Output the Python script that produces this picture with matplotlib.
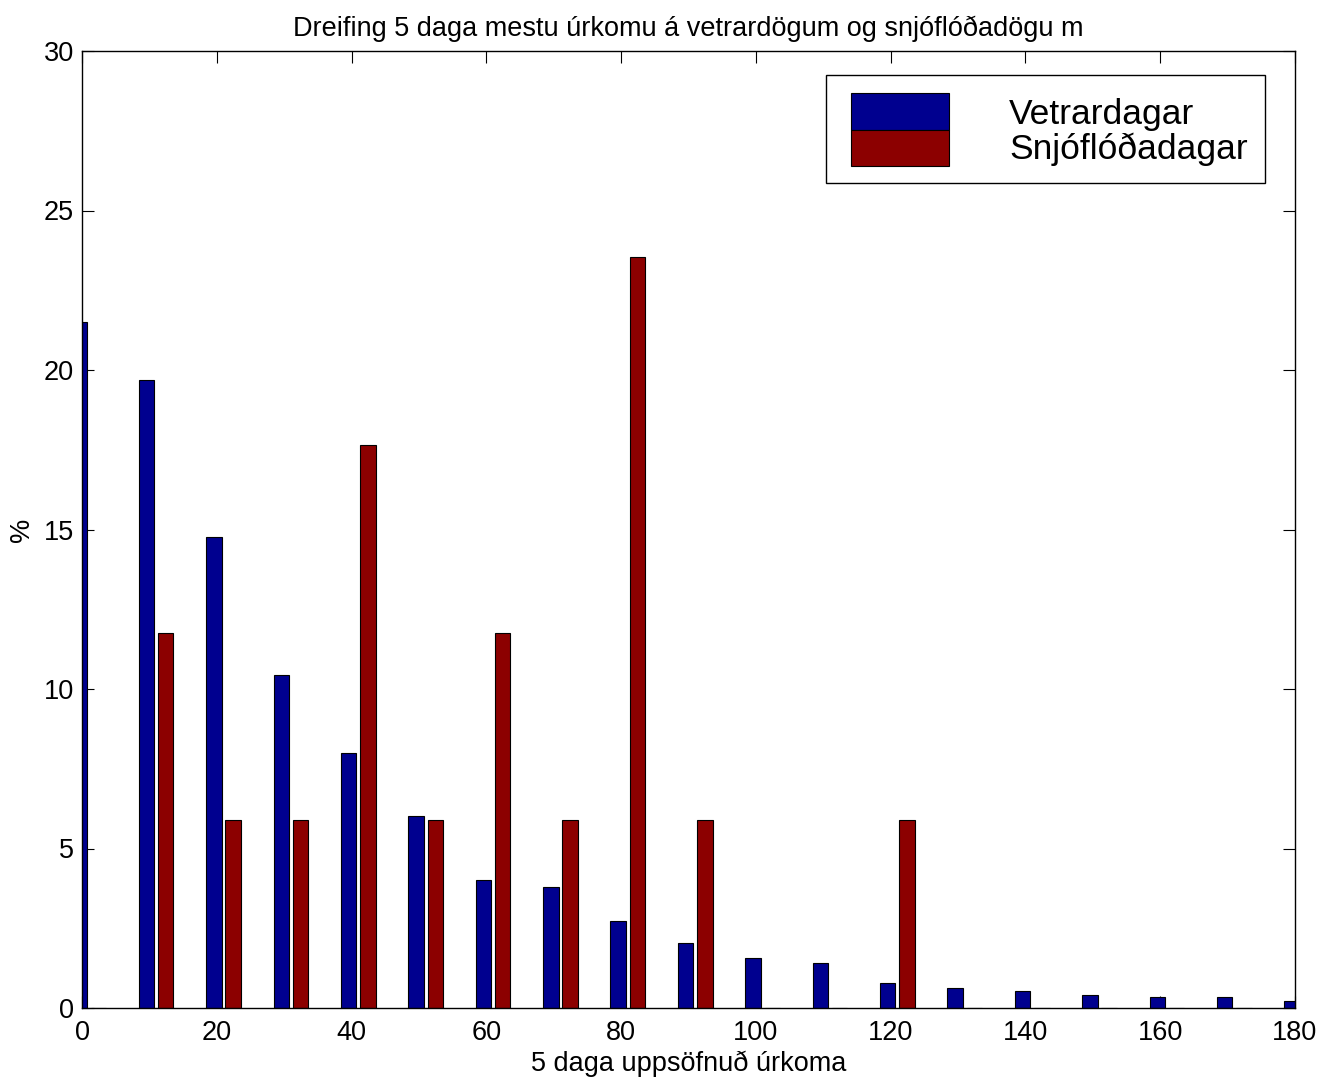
import matplotlib
matplotlib.use("Agg")
import matplotlib.pyplot as plt
from matplotlib.patches import Rectangle
import numpy as np

plt.rcParams['font.family'] = ['Liberation Sans', 'DejaVu Sans']

bin_centers = [1, 11, 21, 31, 41, 51, 61, 71, 81, 91, 101, 111, 121, 131, 141, 151, 161, 171, 181]
vetrardagar = [21.5, 19.7, 14.78, 10.45, 7.99, 6.03, 4.02, 3.79, 2.74, 2.05, 1.58, 1.42, 0.79,
               0.63, 0.52, 0.42, 0.36, 0.36, 0.22]
snjofloda = [0.0, 11.76, 5.88, 5.88, 17.65, 5.88, 11.76, 5.88, 23.53, 5.88, 0.0, 0.0, 5.88,
             0.0, 0.0, 0.0, 0.0, 0.0, 0.0]
labels = ['Vetrardagar', 'Snjóflóðadagar']
colors = ['#00008F', '#8C0000']
xticks = [0, 20, 40, 60, 80, 100, 120, 140, 160, 180]
yticks = [0, 5, 10, 15, 20, 25, 30]

fig = plt.figure(figsize=(13.36, 10.8), dpi=100)
ax = fig.add_axes([82/1336, 1 - 1008/1080, (1295-82)/1336, (1008-51)/1080])

x = np.array(bin_centers, dtype=float)
w = 2.29
off = 1.43
ax.bar(x - off, vetrardagar, width=w, color=colors[0], edgecolor='black', linewidth=0.8, zorder=2)
ax.bar(x + off, snjofloda, width=w, color=colors[1], edgecolor='black', linewidth=0.8, zorder=2)

ax.set_xlim(0, 180)
ax.set_ylim(0, 30)
ax.set_xticks(xticks)
ax.set_yticks(yticks)
ax.tick_params(direction='in', length=8.5, width=0.8, top=True, right=True,
               labelsize=19.5)
ax.tick_params(axis='x', pad=9)
ax.tick_params(axis='y', pad=6)
for s in ax.spines.values():
    s.set_linewidth(1.0)
    s.set_zorder(3)

ax.set_title('Dreifing 5 daga mestu úrkomu á vetrardögum og snjóflóðadögu m', fontsize=19.5, pad=11)
ax.set_xlabel('5 daga uppsöfnuð úrkoma', fontsize=19.5, labelpad=3)
ax.set_ylabel('%', fontsize=19.5, labelpad=6)

# legend (MATLAB style) in axes fraction coordinates
def fx(px):
    return (px - 82) / (1295 - 82)
def fy(py):
    return (1008 - py) / (1008 - 51)

ax.add_patch(Rectangle((fx(826), fy(183)), fx(1265) - fx(826), fy(75) - fy(183),
                       transform=ax.transAxes, facecolor='white', edgecolor='black',
                       linewidth=1.0, zorder=5))
ax.add_patch(Rectangle((fx(851), fy(130)), fx(949) - fx(851), fy(93) - fy(130),
                       transform=ax.transAxes, facecolor=colors[0], edgecolor='black',
                       linewidth=0.8, zorder=6))
ax.add_patch(Rectangle((fx(851), fy(166)), fx(949) - fx(851), fy(130) - fy(166),
                       transform=ax.transAxes, facecolor=colors[1], edgecolor='black',
                       linewidth=0.8, zorder=6))
ax.text(fx(1009), fy(124), labels[0], transform=ax.transAxes, fontsize=25.5,
        va='baseline', ha='left', zorder=7)
ax.text(fx(1009), fy(159), labels[1], transform=ax.transAxes, fontsize=25.5,
        va='baseline', ha='left', zorder=7)

fig.savefig('out.png', dpi=100)
